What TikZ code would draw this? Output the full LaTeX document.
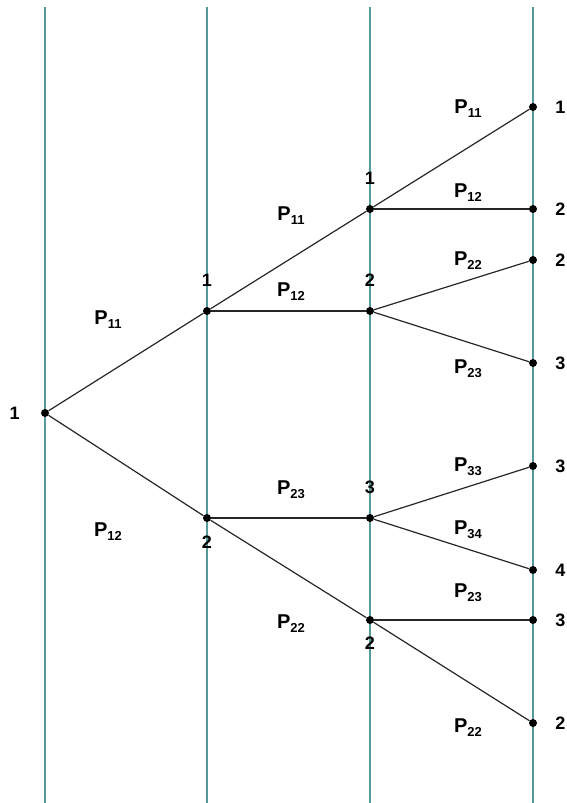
\documentclass[tikz,border=0pt]{standalone}
\usepackage{fontspec}
\setmainfont{Liberation Sans}
\usepackage{xcolor}
\usetikzlibrary{positioning}
\definecolor{stageteal}{RGB}{84,154,154}
\newcommand{\prob}[1]{P\raisebox{-4pt}{\fontsize{13}{13}\selectfont#1}}

\begin{document}
\begin{tikzpicture}[
  x=1pt, y=-1pt,
  dot/.style={circle, fill=black, inner sep=0pt, minimum size=8pt},
  num/.style={inner sep=0pt, font=\fontsize{18}{18}\selectfont\bfseries},
  plabel/.style={inner sep=0pt, font=\fontsize{20}{20}\selectfont\bfseries},
  edge/.style={draw=black!85, line width=1.2pt},
  stage/.style={draw=stageteal, line width=1.1pt}
]
  \useasboundingbox (0,0) rectangle (566,803);
  \foreach \col/\x in {0/45,1/207,2/370,3/533} {
    \coordinate (top\col) at (\x,7);
    \coordinate (bot\col) at (\x,803);
    \draw[stage] (top\col) -- (bot\col);
  }

  \node[dot] (r)  at (45,413) {};
  \node[dot] (a1) at (207,311) {};
  \node[dot] (a2) at (207,518) {};
  \node[dot] (b1) at (370,209) {};
  \node[dot] (b2) at (370,311) {};
  \node[dot] (b3) at (370,518) {};
  \node[dot] (b4) at (370,620) {};
  \node[dot] (c1) at (533,107) {};
  \node[dot] (c2) at (533,209) {};
  \node[dot] (c3) at (533,260) {};
  \node[dot] (c4) at (533,363) {};
  \node[dot] (c5) at (533,466) {};
  \node[dot] (c6) at (533,570) {};
  \node[dot] (c7) at (533,620) {};
  \node[dot] (c8) at (533,723) {};

  \foreach \u/\v in {r/a1, r/a2, a1/b1, a1/b2, a2/b3, a2/b4,
                     b1/c1, b1/c2, b2/c3, b2/c4, b3/c5, b3/c6, b4/c7, b4/c8}
    \draw[edge] (\u) -- (\v);

  \node[num, left=21pt of r]   (nr)  {1};
  \node[num, above=20pt of a1] (na1) {1};
  \node[num, below=14pt of a2] (na2) {2};
  \node[num, above=20pt of b1] (nb1) {1};
  \node[num, above=20pt of b2] (nb2) {2};
  \node[num, above=20pt of b3] (nb3) {3};
  \node[num, below=13pt of b4] (nb4) {2};
  \node[num, right=18pt of c1] (nc1) {1};
  \node[num, right=18pt of c2] (nc2) {2};
  \node[num, right=18pt of c3] (nc3) {2};
  \node[num, right=18pt of c4] (nc4) {3};
  \node[num, right=18pt of c5] (nc5) {3};
  \node[num, right=18pt of c6] (nc6) {4};
  \node[num, right=18pt of c7] (nc7) {3};
  \node[num, right=18pt of c8] (nc8) {2};

  \node[plabel] (pra1)  at (108,320) {\prob{11}};
  \node[plabel] (pra2)  at (108,532) {\prob{12}};
  \node[plabel] (pa1b1) at (291,216) {\prob{11}};
  \node[plabel] (pa1b2) at (291,292) {\prob{12}};
  \node[plabel] (pa2b3) at (291,490) {\prob{23}};
  \node[plabel] (pa2b4) at (291,624) {\prob{22}};
  \node[plabel] (pb1c1) at (468,109) {\prob{11}};
  \node[plabel] (pb1c2) at (468,193) {\prob{12}};
  \node[plabel] (pb2c3) at (468,261) {\prob{22}};
  \node[plabel] (pb2c4) at (468,369) {\prob{23}};
  \node[plabel] (pb3c5) at (468,467) {\prob{33}};
  \node[plabel] (pb3c6) at (468,530) {\prob{34}};
  \node[plabel] (pb4c7) at (468,593) {\prob{23}};
  \node[plabel] (pb4c8) at (468,728) {\prob{22}};
\end{tikzpicture}
\end{document}
